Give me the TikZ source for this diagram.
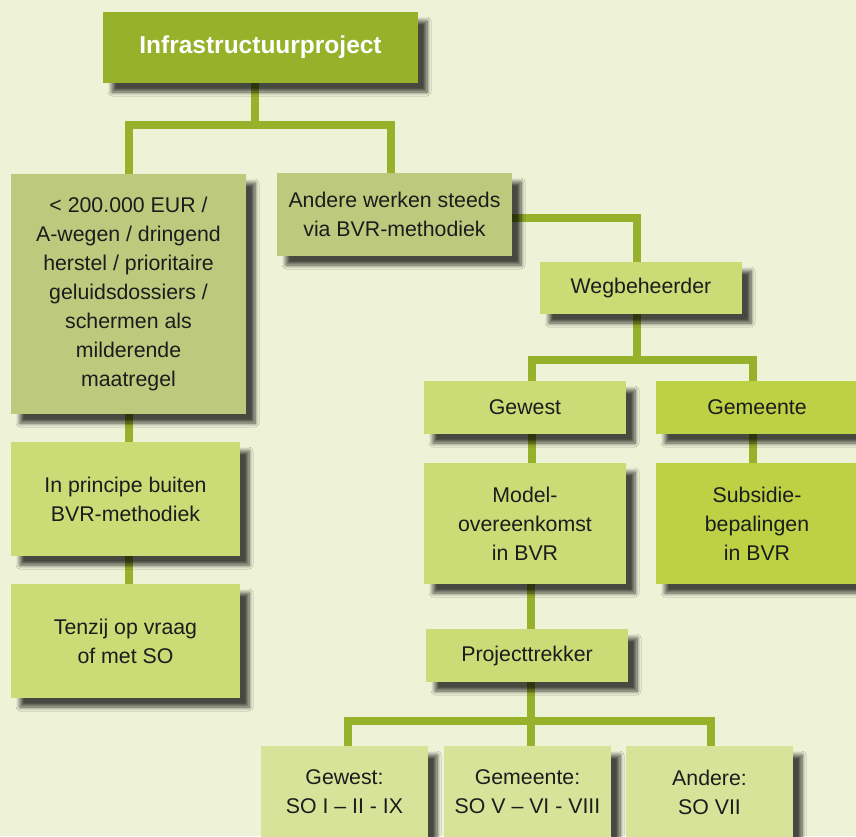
\documentclass[tikz,border=0pt]{standalone}
\usepackage{fontspec}
\setmainfont{Liberation Sans}
\usetikzlibrary{shadows.blur,calc}
\pgfdeclarelayer{background}
\pgfsetlayers{background,main}
\definecolor{bgc}{HTML}{EEF2D7}
\definecolor{topc}{HTML}{98B12A}
\definecolor{olivec}{HTML}{BDC97C}
\definecolor{lightc}{HTML}{CBDB76}
\definecolor{strongc}{HTML}{BDD144}
\definecolor{palec}{HTML}{D8E39A}
\definecolor{linec}{HTML}{98B12A}
\definecolor{txtc}{HTML}{1C1C1C}
\tikzset{
  box/.style={rectangle, inner sep=0pt, align=center, text=txtc,
    font=\fontsize{21.3}{29}\selectfont,
    blur shadow={shadow xshift=9pt, shadow yshift=-9pt, shadow blur radius=4pt, shadow blur steps=8, shadow opacity=70}},
  conn/.style={draw=linec, line width=8pt, line join=miter}
}
\begin{document}
\begin{tikzpicture}[x=1pt,y=-1pt]
\useasboundingbox (0,0) rectangle (856,836);
\clip (0,0) rectangle (856,836);
% nodes
\node[box, fill=topc, text=white, font=\bfseries\fontsize{24.5}{29}\selectfont, minimum width=315pt, minimum height=71pt] (top) at (260.5,47.5) {\raisebox{-3pt}{Infrastructuurproject}};
\node[box, fill=olivec, minimum width=235pt, minimum height=240pt] (lb1) at (128.5,294) {< 200.000 EUR /\\A-wegen / dringend\\herstel / prioritaire\\geluidsdossiers /\\schermen als\\milderende\\maatregel};
\node[box, fill=olivec, minimum width=235pt, minimum height=83pt] (andere) at (394.5,214.5) {Andere werken steeds\\via BVR-methodiek};
\node[box, fill=lightc, minimum width=202pt, minimum height=52pt] (wegb) at (641,288) {Wegbeheerder};
\node[box, fill=lightc, minimum width=202pt, minimum height=53pt] (gewest) at (525,407.5) {Gewest};
\node[box, fill=strongc, minimum width=202pt, minimum height=53pt] (gemeente) at (757,407.5) {Gemeente};
\node[box, fill=lightc, minimum width=202pt, minimum height=121pt] (model) at (525,523.5) {Model-\\overeenkomst\\in BVR};
\node[box, fill=strongc, minimum width=202pt, minimum height=121pt] (subsidie) at (757,523.5) {Subsidie-\\bepalingen\\in BVR};
\node[box, fill=lightc, minimum width=202pt, minimum height=53pt] (projt) at (527,655.5) {Projecttrekker};
\node[box, fill=lightc, minimum width=229pt, minimum height=114pt] (inpr) at (125.5,499) {In principe buiten\\BVR-methodiek};
\node[box, fill=lightc, minimum width=229pt, minimum height=114pt] (tenzij) at (125.5,641) {Tenzij op vraag\\of met SO};
\node[box, fill=palec, minimum width=167pt, minimum height=92pt] (b1) at (344.5,792) {Gewest:\\SO I – II - IX};
\node[box, fill=palec, minimum width=167pt, minimum height=92pt] (b2) at (527.5,792) {Gemeente:\\SO V – VI - VIII};
\node[box, fill=palec, minimum width=167pt, minimum height=92pt] (b3) at (709.5,792) {Andere:\\SO VII};
% junctions
\coordinate (j1) at (255,124.5);
\coordinate (j1l) at (129,124.5);
\coordinate (j1r) at (391,124.5);
\coordinate (j2) at (637,218);
\coordinate (j3) at (637,360);
\coordinate (j3l) at (532,360);
\coordinate (j3r) at (753,360);
\coordinate (j4) at (531,721);
\coordinate (j4l) at (348,721);
\coordinate (j4r) at (711,721);
\begin{pgfonlayer}{background}
\fill[bgc] (0,0) rectangle (856,836);
\draw[conn] (j1 |- top.south) -- (j1);
\draw[conn] (j1l |- lb1.north) -- (j1l) -- (j1r) -- (j1r |- andere.north);
\draw[conn] (andere.east |- j2) -- (j2) -- (j2 |- wegb.north);
\draw[conn] (j3 |- wegb.south) -- (j3);
\draw[conn] (j3l |- gewest.north) -- (j3l) -- (j3r) -- (j3r |- gemeente.north);
\draw[conn] (j3l |- gewest.south) -- (j3l |- model.north);
\draw[conn] (j3r |- gemeente.south) -- (j3r |- subsidie.north);
\draw[conn] (j4 |- model.south) -- (j4 |- projt.north);
\draw[conn] (j4 |- projt.south) -- (j4 |- b2.north);
\draw[conn] (j4l |- b1.north) -- (j4l) -- (j4r) -- (j4r |- b3.north);
\draw[conn] (j1l |- lb1.south) -- (j1l |- inpr.north);
\draw[conn] (j1l |- inpr.south) -- (j1l |- tenzij.north);
\end{pgfonlayer}
\end{tikzpicture}
\end{document}
